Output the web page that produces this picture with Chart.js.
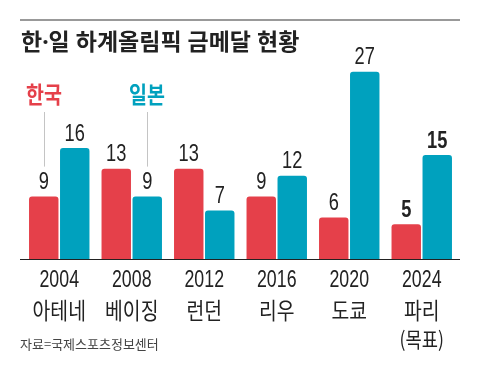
<!DOCTYPE html>
<html>
<head>
<meta charset="utf-8">
<script src="https://cdn.jsdelivr.net/npm/chart.js@4"></script>
<style>
  html, body { margin: 0; padding: 0; background: #fff; }
  canvas { display: block; }
</style>
</head>
<body>
<canvas id="chart" width="480" height="367"></canvas>
<script>
// data
const years = ['2004', '2008', '2012', '2016', '2020', '2024'];
const cities = ['아테네', '베이징', '런던', '리우', '도쿄', '파리'];
const notes = ['', '', '', '', '', '(목표)'];
const korea = [9, 13, 13, 9, 6, 5];
const japan = [16, 9, 7, 12, 27, 15];
const seriesNames = ['한국', '일본'];

const title = '한·일 하계올림픽 금메달 현황';
const source = '자료=국제스포츠정보센터';

const RED = '#e5404a';
const TEAL = '#00a1be';
const KR_FONT = '"Noto Sans CJK KR", "Noto Sans", sans-serif';
const NUM_FONT = '"Liberation Sans", Arial, sans-serif';

// draw text squeezed horizontally to mimic a condensed face
function narrowText(ctx, text, x, y, font, color, sx, align) {
    ctx.save();
    ctx.font = font;
    ctx.fillStyle = color;
    ctx.textAlign = align || 'center';
    ctx.textBaseline = 'middle';
    ctx.translate(x, y);
    ctx.scale(sx, 1);
    ctx.fillText(text, 0, 0);
    ctx.restore();
}

const decorations = {
    id: 'decorations',
    afterDraw(chart) {
        const ctx = chart.ctx;
        const area = chart.chartArea;
        const xScale = chart.scales.x;

        // top rule
        ctx.save();
        ctx.strokeStyle = '#999';
        ctx.lineWidth = 2;
        ctx.beginPath();
        ctx.moveTo(20, 20);
        ctx.lineTo(460, 20);
        ctx.stroke();
        ctx.restore();

        // title (latin font first so the middle dot stays narrow)
        ctx.save();
        ctx.font = 'bold 23px "Noto Sans", "Noto Sans CJK KR", sans-serif';
        ctx.fillStyle = '#222';
        ctx.textBaseline = 'middle';
        ctx.fillText(title, 21, 43);
        ctx.restore();

        // baseline
        ctx.save();
        ctx.strokeStyle = '#222';
        ctx.lineWidth = 1.2;
        ctx.beginPath();
        ctx.moveTo(20, area.bottom + 0.5);
        ctx.lineTo(460, area.bottom + 0.5);
        ctx.stroke();
        ctx.restore();

        // value labels
        chart.data.datasets.forEach((ds, di) => {
            chart.getDatasetMeta(di).data.forEach((bar, i) => {
                const weight = i === years.length - 1 ? 'bold ' : '';
                narrowText(ctx, String(ds.data[i]), bar.x, bar.y - 14,
                    weight + '24px ' + NUM_FONT, '#222', 0.76);
            });
        });

        // legend labels with leader lines
        const legendPos = [[44, 94], [147, 94]];
        const targets = [chart.getDatasetMeta(0).data[0], chart.getDatasetMeta(1).data[1]];
        seriesNames.forEach((name, i) => {
            const [lx, ly] = legendPos[i];
            narrowText(ctx, name, lx, ly, 'bold 23px ' + KR_FONT,
                chart.data.datasets[i].backgroundColor, 0.85);
            const bar = targets[i];
            ctx.save();
            ctx.strokeStyle = '#c4c4c4';
            ctx.lineWidth = 1;
            ctx.beginPath();
            ctx.moveTo(Math.round(bar.x) + 0.5, 112);
            ctx.lineTo(Math.round(bar.x) + 0.5, bar.y - 30);
            ctx.stroke();
            ctx.restore();
        });

        // category labels
        years.forEach((yr, i) => {
            const x = xScale.getPixelForValue(i);
            narrowText(ctx, yr, x, 280, '24px ' + NUM_FONT, '#222', 0.74);
            narrowText(ctx, cities[i], x, 310, '23px ' + KR_FONT, '#222', 0.84);
            if (notes[i]) {
                narrowText(ctx, notes[i], x, 339, '21px ' + KR_FONT, '#222', 0.84);
            }
        });

        // source
        ctx.save();
        ctx.font = '13px ' + KR_FONT;
        ctx.fillStyle = '#444';
        ctx.textBaseline = 'middle';
        ctx.fillText(source, 20, 344);
        ctx.restore();
    }
};

new Chart(document.getElementById('chart'), {
    type: 'bar',
    data: {
        labels: years,
        datasets: [
            {
                label: seriesNames[0],
                data: korea,
                backgroundColor: RED,
                borderRadius: 3,
                borderSkipped: 'bottom'
            },
            {
                label: seriesNames[1],
                data: japan,
                backgroundColor: TEAL,
                borderRadius: 3,
                borderSkipped: 'bottom'
            }
        ]
    },
    options: {
        responsive: false,
        animation: false,
        devicePixelRatio: 1,
        categoryPercentage: 0.855,
        barPercentage: 0.95,
        layout: { padding: { left: 23, right: 22, top: 51, bottom: 108 } },
        plugins: {
            legend: { display: false },
            tooltip: { enabled: false }
        },
        scales: {
            x: { display: false },
            y: { display: false, min: 0, max: 30 }
        }
    },
    plugins: [decorations]
});
</script>
</body>
</html>
